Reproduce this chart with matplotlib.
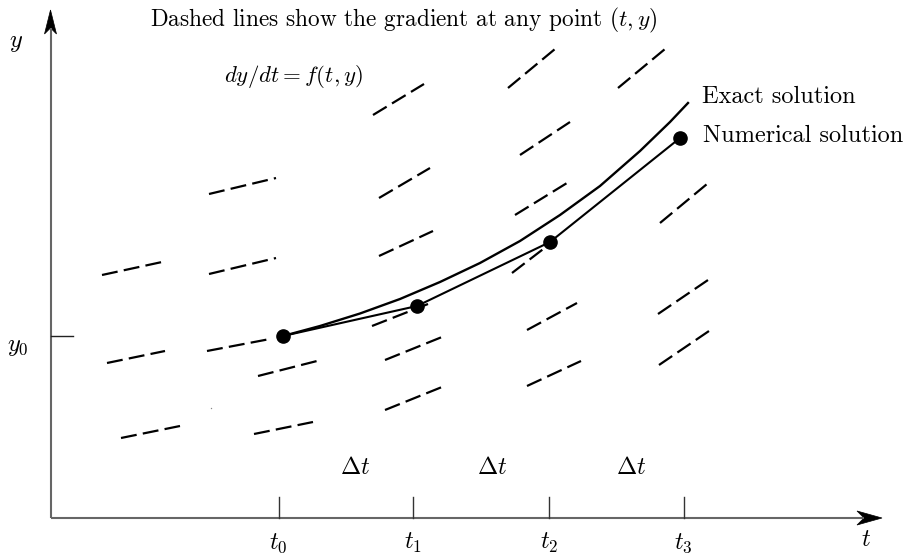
import matplotlib
matplotlib.use("Agg")
import matplotlib.pyplot as plt
from matplotlib.patches import Polygon

plt.rcParams['font.family'] = 'serif'
plt.rcParams['font.serif'] = ['cmr10', 'DejaVu Serif']
plt.rcParams['mathtext.fontset'] = 'cm'
plt.rcParams['lines.scale_dashes'] = False

# ---- data (diagram units: origin at the axes corner, y upward) ----
# slope-field segments: start (t, y) and end (t, y)
seg_t0 = [53, 58, 72, 160, 160, 158, 209, 205, 324, 330, 330, 323, 336, 336,
          459, 471, 466, 463, 478, 478, 569, 611, 609, 610]
seg_y0 = [243, 155, 80, 324, 244, 167, 142, 84, 403, 320, 262, 192, 158, 108,
          430, 363, 303, 245, 188, 132, 430, 295, 204, 153]
seg_t1 = [113, 116, 131, 227, 227, 221, 268, 264, 375, 381, 384, 379, 393, 393,
          506, 521, 518, 506, 528, 532, 616, 658, 659, 660]
seg_y1 = [256, 167, 92, 340, 260, 179, 157, 96, 434, 350, 287, 214, 181, 131,
          469, 396, 335, 278, 215, 157, 469, 334, 238, 187]

# time steps and numerical solution
step_t = [229.5, 364, 500, 634.5]
step_labels = ['$t_0$', '$t_1$', '$t_2$', '$t_3$']
num_t = [234, 368, 501, 631]
num_y = [182, 212, 276, 380]

# exact solution
exact_t = [234, 271, 311, 351, 391, 431, 471, 511, 551, 591, 621, 639]
exact_y = [182, 192, 204.5, 219, 236, 255, 277, 303, 332, 367, 396, 415]

y0_level = 182
delta_t_pos = [306, 443, 582]

W, H = 906, 557
fig = plt.figure(figsize=(W / 100, H / 100), dpi=100)
ax = fig.add_axes([0, 0, 1, 1])
ax.set_xlim(-49, W - 49)
ax.set_ylim(-(H - 518), 518)
ax.axis('off')

FS = 17.5

# axes lines
axc = '#666666'
ax.plot([1.5, 815], [0, 0], color=axc, lw=1.5, solid_capstyle='butt')
ax.plot([1.5, 1.5], [0, 490], color=axc, lw=1.5, solid_capstyle='butt')
ax.add_patch(Polygon([[833, 0], [808, 7], [815, 0], [808, -7]], closed=True,
                     fc='black', ec='black', lw=0.5))
ax.add_patch(Polygon([[1.5, 508], [-4.5, 484], [1.5, 490], [7.5, 484]], closed=True,
                     fc='black', ec='black', lw=0.5))

# ticks
for xt, lab in zip(step_t, step_labels):
    ax.plot([xt, xt], [0, 21], color='#333333', lw=1.0)
    ax.text(xt, -31, lab, ha='center', va='baseline', fontsize=FS)
ax.plot([1.5, 24], [y0_level, y0_level], color='#222222', lw=1.0)
ax.text(-31, y0_level - 11, '$y_0$', ha='center', va='center', fontsize=FS)
ax.text(-33, 475, '$y$', ha='center', va='center', fontsize=FS)
ax.text(817, -22, '$t$', ha='center', va='center', fontsize=FS)

for xp in delta_t_pos:
    ax.text(xp, 50, r'$\Delta t$', ha='center', va='center', fontsize=FS)

# slope field
for a, b, c, d in zip(seg_t0, seg_y0, seg_t1, seg_y1):
    ax.plot([a, c], [b, d], color='black', lw=1.6, linestyle=(0, (11.5, 4.5)),
            dash_capstyle='butt')
ax.plot([162], [110], marker='o', markersize=1.0, color='#888888', lw=0,
        markeredgewidth=0)

# solutions
ax.plot(exact_t, exact_y, color='black', lw=1.7, solid_joinstyle='round')
ax.plot(num_t, num_y, color='black', lw=1.5, marker='o', markersize=9.5)

# texts
ax.text(355, 498, r'Dashed lines show the gradient at any point $(t, y)$',
        ha='center', va='center', fontsize=16.75)
ax.text(245, 441, r'$dy/dt = f(t, y)$', ha='center', va='center', fontsize=16.5)
ax.text(653, 421, 'Exact solution', ha='left', va='center', fontsize=FS)
ax.text(654, 382, 'Numerical solution', ha='left', va='center', fontsize=FS)

fig.savefig('out.png', dpi=100)
